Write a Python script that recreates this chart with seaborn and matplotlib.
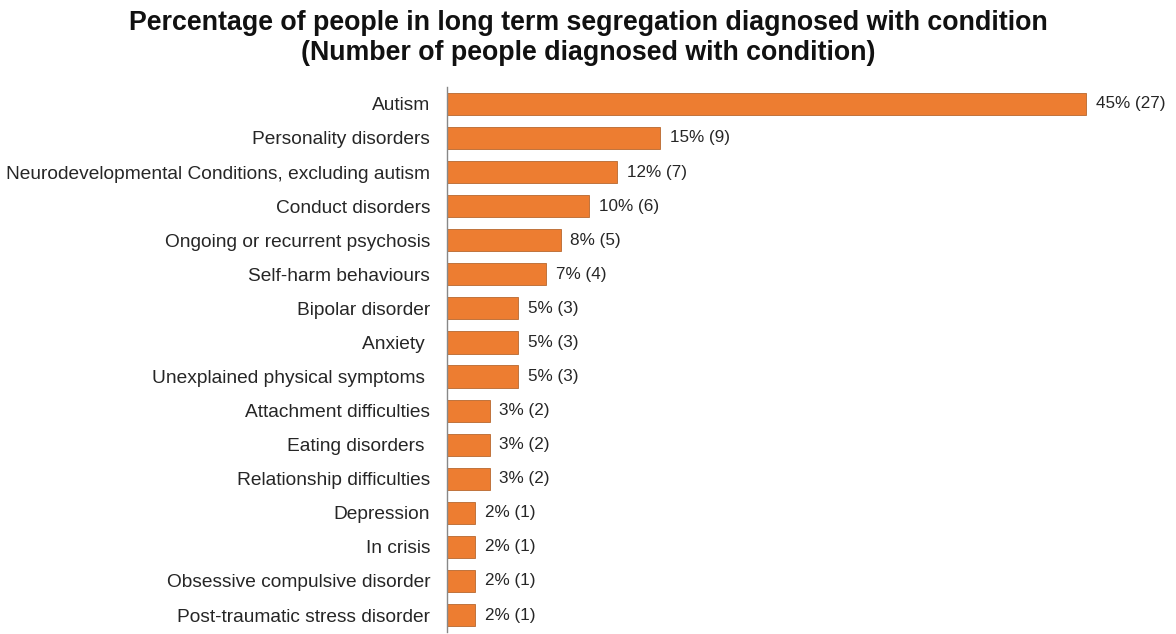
import matplotlib
matplotlib.use('Agg')
import matplotlib.pyplot as plt
import seaborn as sns
import pandas as pd

conditions = ['Autism', 'Personality disorders', 'Neurodevelopmental Conditions, excluding autism',
              'Conduct disorders', 'Ongoing or recurrent psychosis', 'Self-harm behaviours',
              'Bipolar disorder', 'Anxiety ', 'Unexplained physical symptoms ',
              'Attachment difficulties', 'Eating disorders ', 'Relationship difficulties',
              'Depression', 'In crisis', 'Obsessive compulsive disorder', 'Post-traumatic stress disorder']
percent = [45, 15, 12, 10, 8, 7, 5, 5, 5, 3, 3, 3, 2, 2, 2, 2]
counts = [27, 9, 7, 6, 5, 4, 3, 3, 3, 2, 2, 2, 1, 1, 1, 1]

df = pd.DataFrame({'condition': conditions, 'percent': percent, 'count': counts})

sns.set_style('white')
plt.rcParams['font.family'] = ['Liberation Sans', 'DejaVu Sans']

fig = plt.figure(figsize=(11.76, 6.34), dpi=100)
ax = fig.add_axes([0.380, 0.003, 0.620, 0.860])

sns.barplot(x='percent', y='condition', data=df, color='#ED7D31', saturation=1,
            width=0.65, edgecolor='#B8682E', linewidth=0.6, ax=ax)

# labels at end of each bar
for i, row in df.iterrows():
    ax.annotate(f"{row['percent']}% ({row['count']})", (row['percent'], i),
                xytext=(7, 0), textcoords='offset points', va='center', ha='left',
                fontsize=12.3, color='#262626')

ax.set_xlim(0, 51.3)
ax.set_xlabel('')
ax.set_ylabel('')
ax.set_xticks([])
ax.tick_params(axis='y', length=0, labelsize=13.8, labelcolor='#262626', pad=12)
for s in ['top', 'right', 'bottom']:
    ax.spines[s].set_visible(False)
ax.spines['left'].set_color('#888888')
ax.spines['left'].set_linewidth(1)

fig.text(0.5, 0.964, 'Percentage of people in long term segregation diagnosed with condition',
         ha='center', va='center', fontsize=19.3, fontweight='bold', color='#111111')
fig.text(0.5, 0.916, '(Number of people diagnosed with condition)',
         ha='center', va='center', fontsize=19.3, fontweight='bold', color='#111111')

fig.savefig('out.png', dpi=100)
